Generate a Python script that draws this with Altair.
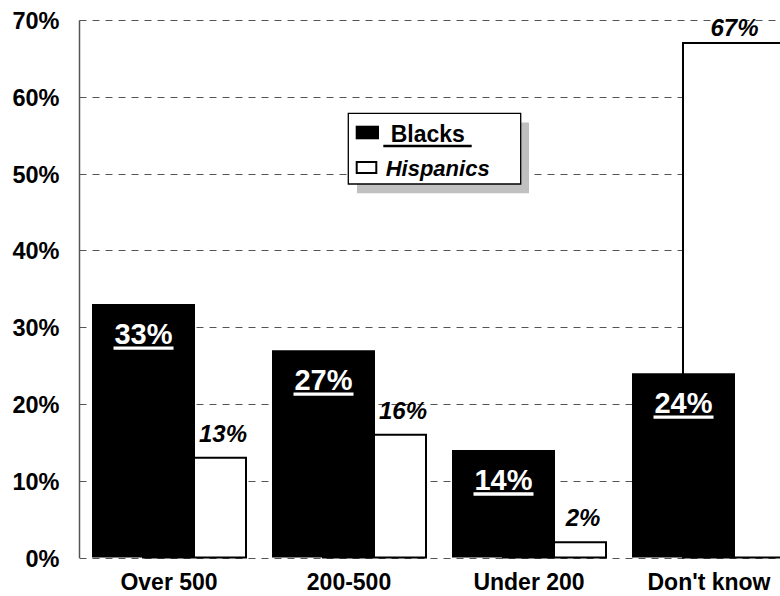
import altair as alt
import pandas as pd

# Survey answers by size category, in percent
categories = ["Over 500", "200-500", "Under 200", "Don't know"]
blacks = [33, 27, 14, 24]
hispanics = [13, 16, 2, 67]
y_ticks = [0, 10, 20, 30, 40, 50, 60, 70]

FONT = "Liberation Sans"
BAR_W = 103      # pixel width of each bar
SHIFT = 25.5     # the two series overlap by half a bar

df_b = pd.DataFrame({"size": categories, "pct": blacks})
df_h = pd.DataFrame({"size": categories, "pct": hispanics})

x_enc = alt.X(
    "size:N",
    sort=categories,
    scale=alt.Scale(range=[0, 720], paddingInner=0, paddingOuter=0),
    axis=alt.Axis(
        title=None, labelAngle=0, domain=False, ticks=False, grid=False,
        labelFont=FONT, labelFontSize=23, labelFontWeight="bold",
        labelColor="black", labelPadding=14,
    ),
)
y_enc = alt.Y(
    "pct:Q",
    scale=alt.Scale(domain=[0, 70], nice=False),
    axis=alt.Axis(
        title=None, values=y_ticks, labelExpr="datum.value + '%'",
        ticks=False, domain=True, domainColor="#555555", domainWidth=1.5,
        grid=True, gridColor="#555555", gridWidth=1.2, gridDash=[7, 6],
        labelFont=FONT, labelFontSize=23.5, labelFontWeight="bold",
        labelColor="black", labelPadding=20, labelOffset=1.5,
    ),
)

white_bars = alt.Chart(df_h).mark_bar(
    width=BAR_W, xOffset=SHIFT, fill="white", stroke="black", strokeWidth=2
).encode(x=x_enc, y=y_enc)

black_bars = alt.Chart(df_b).mark_bar(
    width=BAR_W, xOffset=-SHIFT, color="black"
).encode(x=x_enc, y=y_enc)

black_labels = alt.Chart(df_b).transform_calculate(
    label="datum.pct + '%'"
).mark_text(
    xOffset=-SHIFT, dy=40, baseline="alphabetic", align="center",
    font=FONT, fontSize=29, fontWeight="bold", color="white",
).encode(x=x_enc, y=y_enc, text="label:N")

black_underlines = alt.Chart(df_b).mark_tick(
    xOffset=-SHIFT, yOffset=44, size=60, thickness=3.3, color="white", opacity=1
).encode(x=x_enc, y=y_enc)

hisp_labels = alt.Chart(df_h).transform_filter("datum.pct < 60").transform_calculate(
    label="datum.pct + '%'"
).mark_text(
    xOffset=54, dy=-16, baseline="alphabetic", align="center",
    font=FONT, fontSize=24, fontWeight="bold", fontStyle="italic", color="black",
).encode(x=x_enc, y=y_enc, text="label:N")

# the tallest bar reaches the top of the frame, so its label sits just above the bar edge
hisp_top_label = alt.Chart(df_h).transform_filter("datum.pct >= 60").transform_calculate(
    label="datum.pct + '%'"
).mark_text(
    xOffset=SHIFT, dy=-7.5, baseline="alphabetic", align="center",
    font=FONT, fontSize=24, fontWeight="bold", fontStyle="italic", color="black",
).encode(x=x_enc, y=y_enc, text="label:N")

# hand-built legend box with drop shadow
one = alt.Data(values=[{"k": 0}])


def box(x1, x2, y1, y2, **kw):
    return alt.Chart(one).mark_rect(**kw).encode(
        x=alt.value(x1), x2=alt.value(x2), y=alt.value(y1), y2=alt.value(y2)
    )


def label(txt, x, y, **kw):
    return alt.Chart(one).mark_text(
        align="left", baseline="alphabetic", font=FONT, fontWeight="bold",
        color="black", **kw
    ).encode(x=alt.value(x), y=alt.value(y), text=alt.value(txt))


legend = alt.layer(
    box(278, 450, 102.5, 173.3, fill="#c0c0c0"),
    box(269.3, 441.7, 93.3, 164, fill="white", stroke="black", strokeWidth=1.3),
    box(276.7, 300, 105.7, 119.3, fill="black"),
    box(277.7, 297.3, 142, 153, fill="white", stroke="black", strokeWidth=2),
    label("Blacks", 311.7, 122.3, fontSize=23),
    alt.Chart(one).mark_rule(color="black", strokeWidth=2.5).encode(
        x=alt.value(304.3), x2=alt.value(392.7), y=alt.value(126)
    ),
    label("Hispanics", 306.7, 156, fontSize=22, fontStyle="italic"),
)

chart = alt.layer(
    white_bars, black_bars, black_labels, black_underlines,
    hisp_labels, hisp_top_label, legend,
).properties(
    width=700, height=537.5,
    autosize=alt.AutoSizeParams(type="none"),
    padding={"left": 79, "top": 20, "right": 1, "bottom": 38.5},
    background="white",
).configure_view(stroke=None)

chart.save("out.html", embed_options={"renderer": "svg", "actions": False})
